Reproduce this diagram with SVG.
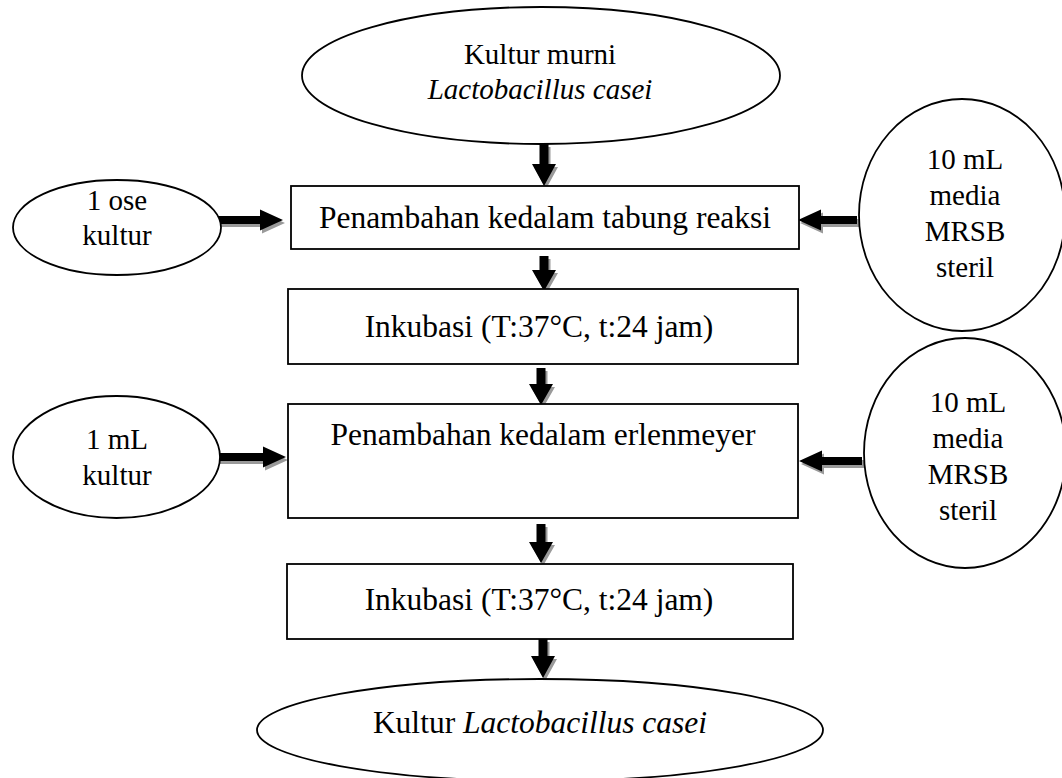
<svg xmlns="http://www.w3.org/2000/svg" width="1062" height="778" viewBox="0 0 1062 778">
<style>
.shape{fill:#fff;stroke:#000;stroke-width:1.8}
.t{font-family:"Liberation Serif","Times New Roman",serif;fill:#000;text-anchor:middle}
.b{font-size:31.5px}
.e{font-size:29px}
.i{font-style:italic}
.arr{fill:#000}
.sh{fill:#9a9a9a}
</style>
<rect width="1062" height="778" fill="#fff"/>
<g id="connectors">
  <g transform="translate(2,3)" class="sh">
    <polygon points="539.5,144 548.5,144 548.5,164 556,164 544,186 532,164 539.5,164"/>
    <polygon points="539.5,256 548.5,256 548.5,270 556,270 544,291 532,270 539.5,270"/>
    <polygon points="536.5,368 545.5,368 545.5,384 553,384 541,405 529,384 536.5,384"/>
    <polygon points="536.5,524 545.5,524 545.5,542 553,542 541,563 529,542 536.5,542"/>
    <polygon points="538.5,639 547.5,639 547.5,656 555,656 543,678 531,656 538.5,656"/>
    <polygon points="215,216 260,216 260,209.5 283,220 260,230.5 260,224 215,224"/>
    <polygon points="857,216 821,216 821,209.5 798,220 821,230.5 821,224 857,224"/>
    <polygon points="218,453 263,453 263,446.5 286,457 263,467.5 263,461 218,461"/>
    <polygon points="862,457 822,457 822,450.5 799,461 822,471.5 822,465 862,465"/>
  </g>
  <g class="arr">
    <polygon points="539.5,144 548.5,144 548.5,164 556,164 544,186 532,164 539.5,164"/>
    <polygon points="539.5,256 548.5,256 548.5,270 556,270 544,291 532,270 539.5,270"/>
    <polygon points="536.5,368 545.5,368 545.5,384 553,384 541,405 529,384 536.5,384"/>
    <polygon points="536.5,524 545.5,524 545.5,542 553,542 541,563 529,542 536.5,542"/>
    <polygon points="538.5,639 547.5,639 547.5,656 555,656 543,678 531,656 538.5,656"/>
    <polygon points="215,216 260,216 260,209.5 283,220 260,230.5 260,224 215,224"/>
    <polygon points="857,216 821,216 821,209.5 798,220 821,230.5 821,224 857,224"/>
    <polygon points="218,453 263,453 263,446.5 286,457 263,467.5 263,461 218,461"/>
    <polygon points="862,457 822,457 822,450.5 799,461 822,471.5 822,465 862,465"/>
  </g>
</g>
<g id="start">
  <ellipse class="shape" cx="541" cy="75.5" rx="239" ry="68.5"/>
  <text class="t e" x="540" y="64">Kultur murni</text>
  <text class="t e i" x="540" y="99">Lactobacillus casei</text>
</g>
<g id="ose">
  <ellipse class="shape" cx="117" cy="227.5" rx="104" ry="47.5"/>
  <text class="t e" x="117" y="210">1 ose</text>
  <text class="t e" x="117" y="245">kultur</text>
</g>
<g id="media1">
  <ellipse class="shape" cx="962" cy="215" rx="103" ry="116"/>
  <text class="t e" x="965" y="169">10 mL</text>
  <text class="t e" x="965" y="205">media</text>
  <text class="t e" x="965" y="241">MRSB</text>
  <text class="t e" x="965" y="277">steril</text>
</g>
<g id="step1">
  <rect class="shape" x="291" y="186" width="508" height="63"/>
  <text class="t b" x="545" y="228">Penambahan kedalam tabung reaksi</text>
</g>
<g id="step2">
  <rect class="shape" x="288" y="289" width="510" height="75"/>
  <text class="t b" x="539" y="337">Inkubasi (T:37°C, t:24 jam)</text>
</g>
<g id="ml">
  <ellipse class="shape" cx="116.5" cy="457" rx="103.5" ry="61"/>
  <text class="t e" x="117" y="449">1 mL</text>
  <text class="t e" x="117" y="485">kultur</text>
</g>
<g id="media2">
  <ellipse class="shape" cx="965" cy="453" rx="101" ry="115"/>
  <text class="t e" x="968" y="412">10 mL</text>
  <text class="t e" x="968" y="448">media</text>
  <text class="t e" x="968" y="484">MRSB</text>
  <text class="t e" x="968" y="520">steril</text>
</g>
<g id="step3">
  <rect class="shape" x="288" y="404" width="510" height="114"/>
  <text class="t b" x="543" y="445">Penambahan kedalam erlenmeyer</text>
</g>
<g id="step4">
  <rect class="shape" x="287" y="564" width="506" height="75"/>
  <text class="t b" x="539" y="610">Inkubasi (T:37°C, t:24 jam)</text>
</g>
<g id="end">
  <ellipse class="shape" cx="540" cy="730" rx="283" ry="51"/>
  <text class="t b" x="540" y="733">Kultur <tspan class="i">Lactobacillus casei</tspan></text>
</g>
</svg>
